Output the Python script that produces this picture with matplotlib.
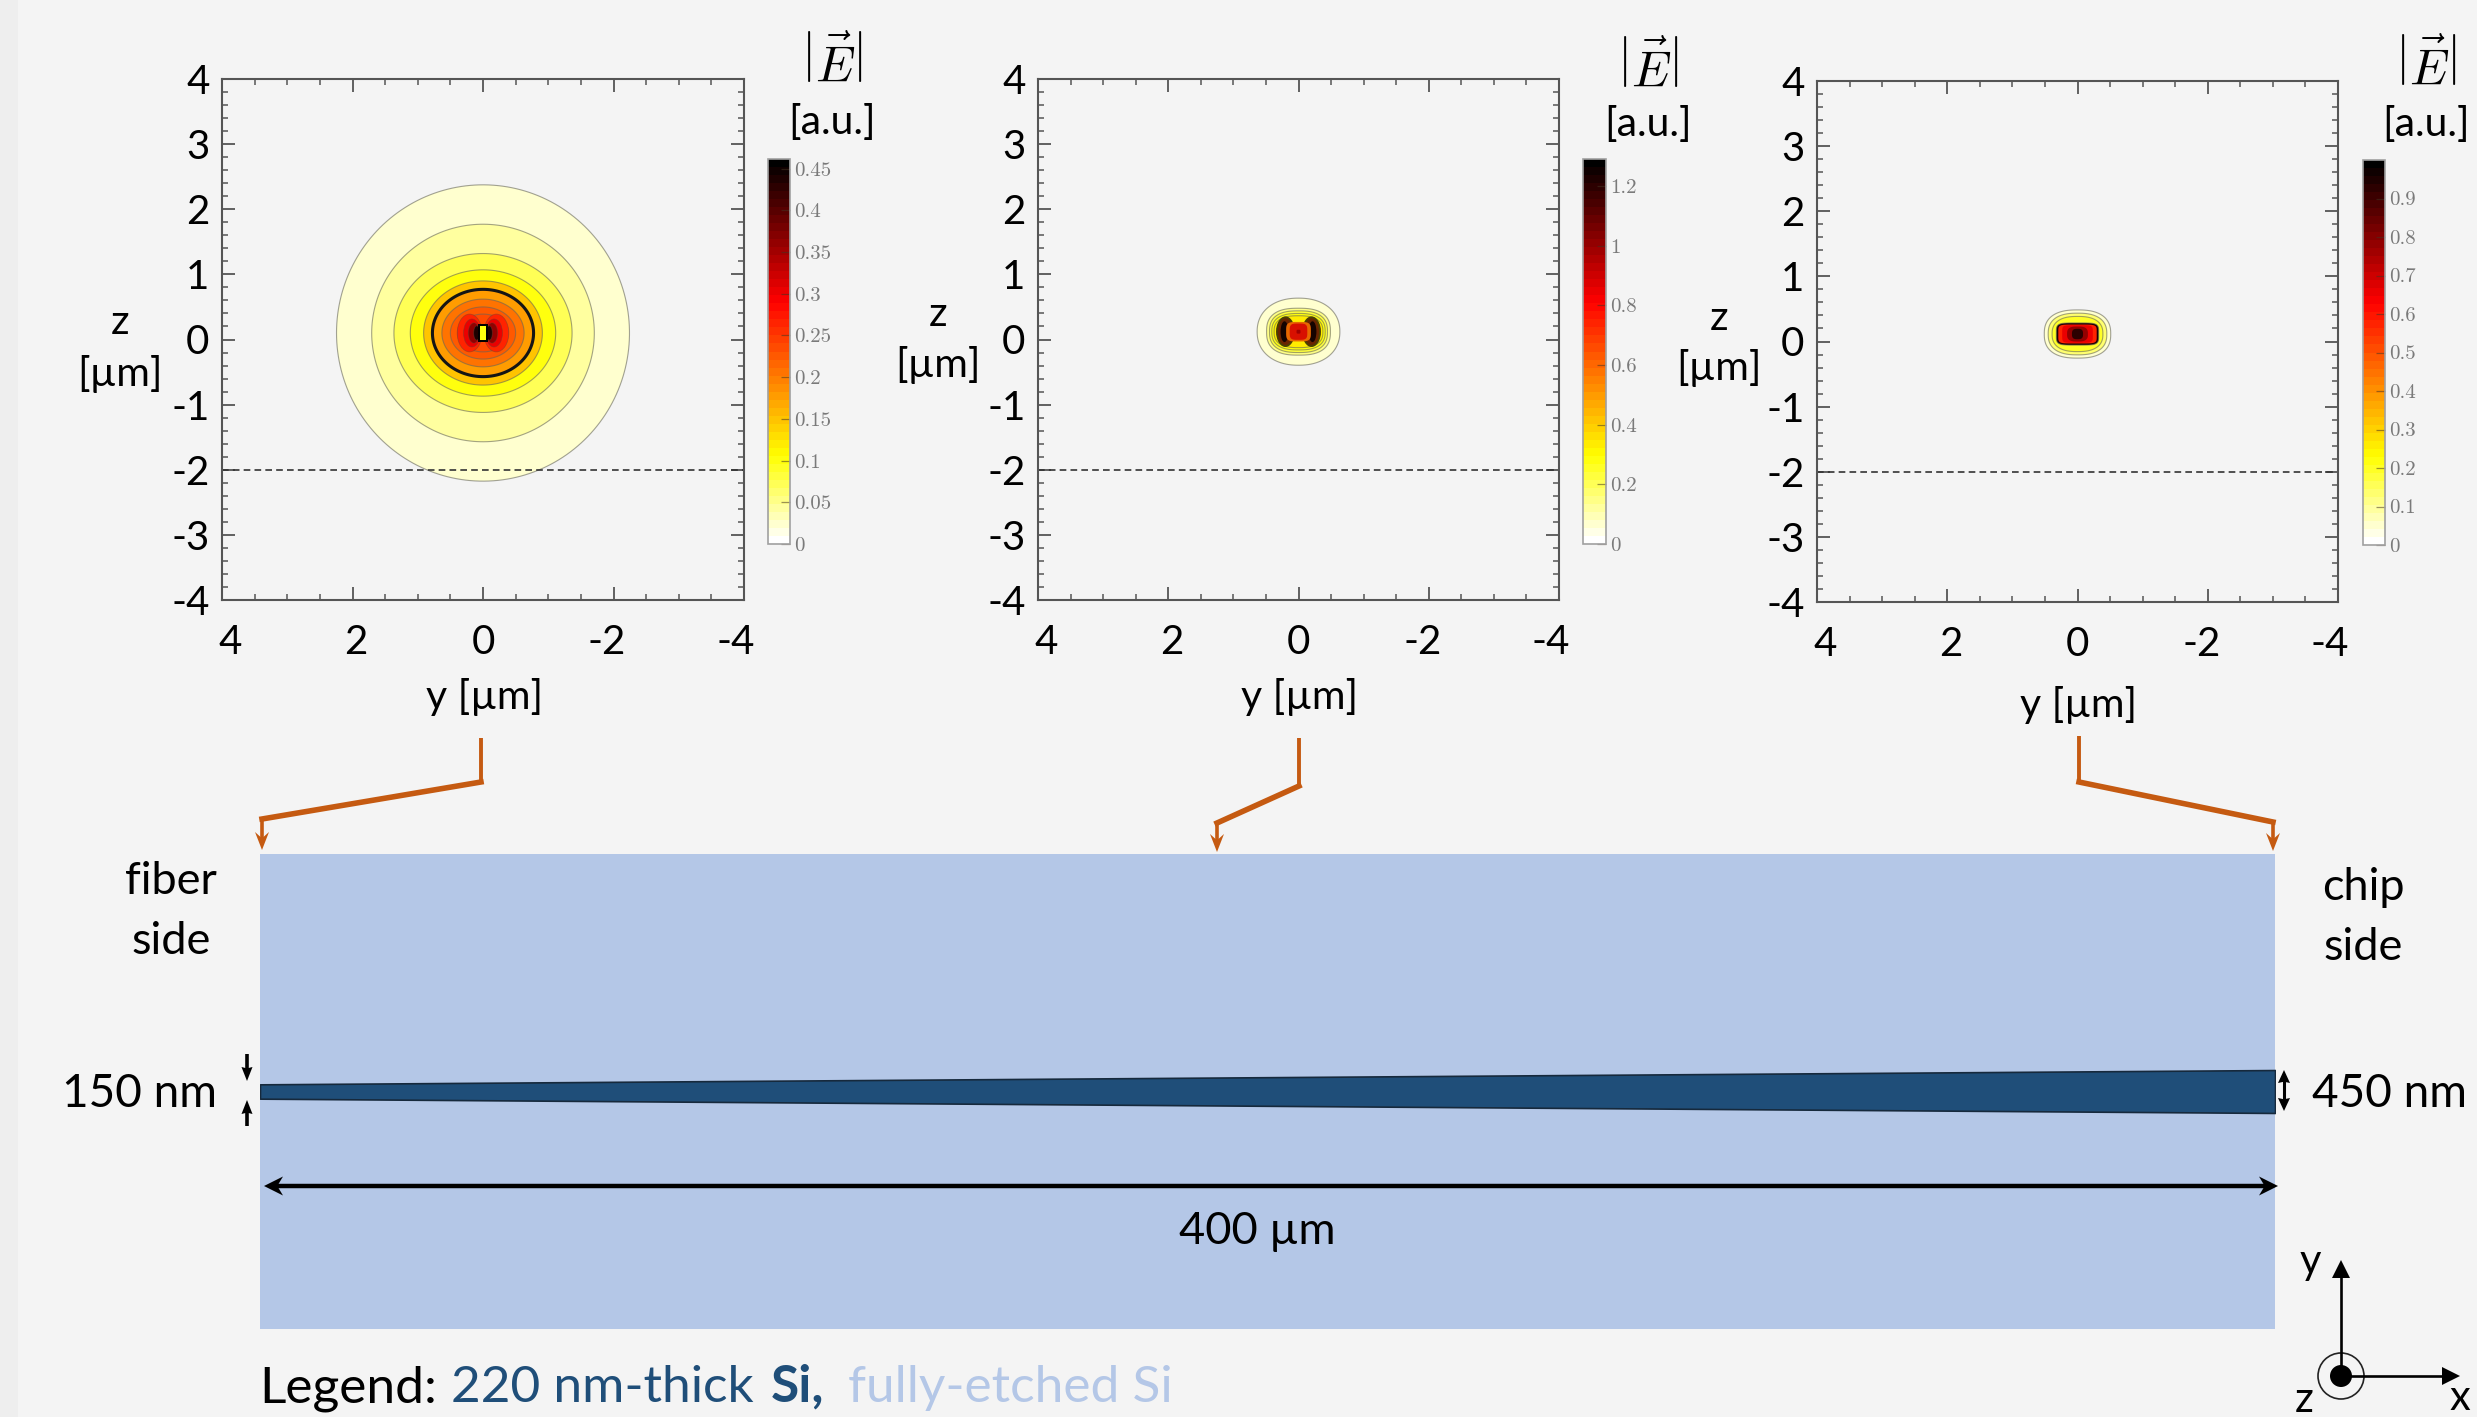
import numpy as np
import matplotlib
matplotlib.use("Agg")
import matplotlib.pyplot as plt
from matplotlib.cm import ScalarMappable
from matplotlib.colors import LinearSegmentedColormap, Normalize
from matplotlib.patches import Circle, Ellipse, Polygon, Rectangle
from matplotlib.ticker import FixedLocator

W, H = 2477, 1417
plt.rcParams['font.family'] = ['Lato', 'DejaVu Sans']
plt.rcParams['mathtext.fontset'] = 'cm'

BG = '#f4f4f4'
ETCH = '#b4c7e7'
SI = '#1f4e79'
ORANGE = '#c55a11'

# tick values
x_major = [4, 2, 0, -2, -4]
x_label_pos = [3.87, 1.95, 0, -1.9, -3.87]
x_labels = ['4', '2', '0', '-2', '-4']
z_major = [4, 3, 2, 1, 0, -1, -2, -3, -4]
z_labels = ['4', '3', '2', '1', '0', '-1', '-2', '-3', '-4']
cut_z = -2

# panel 1 contours (half width y, half height z in um, field value)
p1_center = 0.1
p1_hy = [2.245, 1.706, 1.365, 1.114, 0.91, 0.775, 0.63, 0.50, 0.39]
p1_hz = [2.275, 1.67, 1.22, 0.97, 0.80, 0.67, 0.52, 0.40, 0.29]
p1_val = [0.025, 0.045, 0.07, 0.10, 0.15, 0.18, 0.205, 0.225, 0.24]
p1_black = 5
p1_lobe_off = [0.205, 0.17, 0.14, 0.097]
p1_lobe_hy = [0.19, 0.128, 0.085, 0.046]
p1_lobe_hz = [0.29, 0.215, 0.155, 0.11]
p1_lobe_val = [0.26, 0.30, 0.36, 0.44]

# panel 2 contours
p2_center = 0.12
p2_hy = [0.635, 0.49, 0.445, 0.41, 0.375]
p2_hz = [0.515, 0.36, 0.32, 0.28, 0.245]
p2_val = [0.08, 0.16, 0.22, 0.28, 0.33]
p2_lobe_off = [0.2, 0.2, 0.215]
p2_lobe_hy = [0.145, 0.115, 0.06]
p2_lobe_hz = [0.235, 0.205, 0.16]
p2_lobe_col = ['#4a4000', '#6a2400', '#150300']
p2_mid_col = ['#e86800', '#d81000', '#a00000']
p2_mid_hy = [0.19, 0.135, 0.03]
p2_mid_hz = [0.15, 0.125, 0.03]

# panel 3 contours
p3_center = 0.115
p3_hy = [0.51, 0.45, 0.39, 0.325]
p3_hz = [0.37, 0.32, 0.27, 0.17]
p3_val = [0.06, 0.13, 0.20, 0.95]
p3_in_hy = [0.295, 0.235, 0.16, 0.085]
p3_in_hz = [0.145, 0.135, 0.115, 0.08]
p3_in_val = [0.58, 0.66, 0.78, 0.93]

# colour bars
cb1_max, cb1_ticks, cb1_labels = 0.4615, [0, 0.05, 0.1, 0.15, 0.2, 0.25, 0.3, 0.35, 0.4, 0.45], ['0', '0.05', '0.1', '0.15', '0.2', '0.25', '0.3', '0.35', '0.4', '0.45']
cb2_max, cb2_ticks, cb2_labels = 1.29, [0, 0.2, 0.4, 0.6, 0.8, 1, 1.2], ['0', '0.2', '0.4', '0.6', '0.8', '1', '1.2']
cb3_max, cb3_ticks, cb3_labels = 1.0, [0, 0.1, 0.2, 0.3, 0.4, 0.5, 0.6, 0.7, 0.8, 0.9], ['0', '0.1', '0.2', '0.3', '0.4', '0.5', '0.6', '0.7', '0.8', '0.9']

# taper
wg_x = [0, 400]
wg_width = [150, 450]

cmap = LinearSegmentedColormap.from_list(
    'hot_r2', [(0, '#ffffff'), (0.225, '#ffff00'), (0.63, '#ff0000'), (1, '#000000')], N=48)


def px_axes(left, top, right, bottom, **kw):
    return fig.add_axes([left / W, 1 - bottom / H, (right - left) / W, (bottom - top) / H], **kw)


def superellipse(cy, hy, hz, n):
    t = np.linspace(0, 2 * np.pi, 200)
    c, s = np.cos(t), np.sin(t)
    return np.column_stack([hy * np.sign(c) * np.abs(c) ** (2 / n),
                            cy + hz * np.sign(s) * np.abs(s) ** (2 / n)])


def ring(ax, cy, hy, hz, n, fc, ec='#66665a99', lw=0.8):
    ax.add_patch(Polygon(superellipse(cy, hy, hz, n), closed=True, fc=fc, ec=ec, lw=lw))


def panel(box, cb_box, cb_max, ticks, labels, xlab_y):
    ax = px_axes(*box, facecolor='none')
    ax.set_xlim(4, -4)
    ax.set_ylim(-4, 4)
    ax.set_xticks(x_major)
    ax.set_xticklabels([])
    ax.xaxis.set_minor_locator(FixedLocator(np.arange(-4, 4.1, 0.5)))
    ax.set_yticks(z_major)
    ax.set_yticklabels(z_labels, fontsize=29)
    ax.yaxis.set_minor_locator(FixedLocator(np.arange(-4, 4.1, 0.2)))
    ax.tick_params(which='major', direction='in', top=True, right=True, length=9.5, width=1.3, color='#555555', pad=9)
    ax.tick_params(which='minor', direction='in', top=True, right=True, length=4.5, width=1.1, color='#555555')
    for s in ax.spines.values():
        s.set_color('#555555')
        s.set_linewidth(1.5)
    for p, t in zip(x_label_pos, x_labels):
        ax.text(p, xlab_y, t, transform=ax.get_xaxis_transform(), ha='center', va='center', fontsize=29, color='black')
    norm = Normalize(0, cb_max)
    cax = px_axes(*cb_box)
    cb = fig.colorbar(ScalarMappable(norm=norm, cmap=cmap), cax=cax, ticks=ticks)
    cb.ax.set_yticklabels(labels)
    cb.ax.tick_params(direction='in', length=6.5, width=0.9, color='#44332288', labelcolor='#7a7a7a', labelsize=15, pad=3)
    for t in cb.ax.get_yticklabels():
        t.set_family('cmr10')
    cb.outline.set_edgecolor('#a0a0a0')
    cb.outline.set_linewidth(1.2)
    return ax, norm


fig = plt.figure(figsize=(W / 100, H / 100), dpi=100, facecolor=BG)

# slightly darker strip on the left edge, and pixel overlay for the annotations
ov = fig.add_axes([0, 0, 1, 1], facecolor='none')
ov.set_xlim(0, W)
ov.set_ylim(H, 0)
ov.axis('off')
ov.add_patch(Rectangle((0, 0), 18, H, fc='#eeeeee', ec='none'))

# panel 1
ax1, norm1 = panel((222, 79, 744, 600), (768, 159, 790, 544), cb1_max, cb1_ticks, cb1_labels, -0.082)
for i, (hy, hz, v) in enumerate(zip(p1_hy, p1_hz, p1_val)):
    if i == p1_black:
        ring(ax1, p1_center, hy, hz, 2, cmap(norm1(v)), ec='#151515', lw=2.2)
    else:
        ring(ax1, p1_center, hy, hz, 2, cmap(norm1(v)))
for off, hy, hz, v in zip(p1_lobe_off, p1_lobe_hy, p1_lobe_hz, p1_lobe_val):
    for sgn in (-1, 1):
        ax1.add_patch(Ellipse((sgn * off, p1_center), 2 * hy, 2 * hz, fc=cmap(norm1(v)), ec='#66443377', lw=0.6))
ax1.add_patch(Rectangle((-0.075, p1_center - 0.135), 0.15, 0.27, fc='black', ec='none'))
ax1.add_patch(Rectangle((-0.04, p1_center - 0.105), 0.08, 0.21, fc=cmap(norm1(0.1)), ec='none'))
ax1.axhline(cut_z, color='#333333', lw=1.2, dashes=(4, 2.5))

# panel 2
ax2, norm2 = panel((1038, 79, 1559, 600), (1583, 159, 1606, 544), cb2_max, cb2_ticks, cb2_labels, -0.082)
for i, (hy, hz, v) in enumerate(zip(p2_hy, p2_hz, p2_val)):
    ring(ax2, p2_center, hy, hz, 2.2 if i == 0 else 2.6, cmap(norm2(v)))
for off, hy, hz, col in zip(p2_lobe_off, p2_lobe_hy, p2_lobe_hz, p2_lobe_col):
    for sgn in (-1, 1):
        ax2.add_patch(Ellipse((sgn * off, p2_center), 2 * hy, 2 * hz, fc=col, ec='none'))
for hy, hz, col in zip(p2_mid_hy, p2_mid_hz, p2_mid_col):
    ring(ax2, p2_center, hy, hz, 4, col, ec='none', lw=0)
ax2.axhline(cut_z, color='#333333', lw=1.2, dashes=(4, 2.5))

# panel 3
ax3, norm3 = panel((1817, 81, 2338, 602), (2363, 160, 2385, 545), cb3_max, cb3_ticks, cb3_labels, -0.082)
for i, (hy, hz, v) in enumerate(zip(p3_hy, p3_hz, p3_val)):
    ring(ax3, p3_center, hy, hz, 2.5 if i < 3 else 5, cmap(norm3(v)))
for i, (hy, hz, v) in enumerate(zip(p3_in_hy, p3_in_hz, p3_in_val)):
    ring(ax3, p3_center, hy, hz, 6 if i < 2 else 3, cmap(norm3(v)), ec='none', lw=0)
ax3.axhline(cut_z, color='#333333', lw=1.2, dashes=(4, 2.5))

# taper schematic, in um along x and nm across
sch = px_axes(260, 854, 2275, 1329, facecolor=ETCH)
sch.set_xlim(wg_x)
sch.set_ylim(-2490, 2490)
sch.set_xticks([])
sch.set_yticks([])
for s in sch.spines.values():
    s.set_visible(False)
half = np.array(wg_width) / 2
sch.fill_between(wg_x, -half, half, fc=SI, ec='#16293c', lw=1.2)

# overlay goes on top of the axes
ov.set_zorder(5)


def head(tip, direction, length, width, col='black', notch=0.3):
    d = np.array(direction, float)
    d = d / np.hypot(*d)
    nrm = np.array([-d[1], d[0]])
    tip = np.array(tip, float)
    back = tip - d * length
    pts = [tip, back + nrm * width / 2, tip - d * length * (1 - notch), back - nrm * width / 2]
    ov.add_patch(Polygon(pts, closed=True, fc=col, ec='none'))


def bracket(pts):
    (x0, y0), (x1, y1), (x2, y2), (x3, y3) = pts
    ov.plot([x0, x1], [y0, y1], color=ORANGE, lw=2.8, solid_capstyle='butt')
    ov.plot([x1, x2], [y1, y2], color=ORANGE, lw=4, solid_capstyle='projecting')
    ov.plot([x2, x3 - 0], [y2, y3 - 6], color=ORANGE, lw=2.6, solid_capstyle='butt')
    head((x3, y3), (0, 1), 18, 14, ORANGE, notch=0.35)


bracket([(481, 738), (481, 782), (262, 819), (262, 850)])
bracket([(1299, 738), (1299, 786), (1217, 823), (1217, 852)])
bracket([(2079, 736), (2079, 782), (2273, 822), (2273, 851)])

# axis titles and colour bar titles
for x, y1, y2, s in [(120, 322, 374, 'z'), (938, 315, 365, 'z'), (1719, 318, 368, 'z')]:
    ov.text(x, y1, s, ha='center', va='center', fontsize=29.5)
    ov.text(x, y2, '[µm]', ha='center', va='center', fontsize=29.5)
for x, y in [(485, 697), (1300, 697), (2079, 705)]:
    ov.text(x, y, 'y [µm]', ha='center', va='center', fontsize=29.5)
for x, y1, y2 in [(832, 63, 122), (1648, 68, 125), (2426, 66, 125)]:
    ov.text(x, y1, r'$\left|\vec{E}\right|$', ha='center', va='center', fontsize=36)
    ov.text(x, y2, '[a.u.]', ha='center', va='center', fontsize=29.5)

# schematic labels
ov.text(171, 881, 'fiber', ha='center', va='center', fontsize=32.5)
ov.text(171, 941, 'side', ha='center', va='center', fontsize=32.5)
ov.text(2363, 888, 'chip', ha='center', va='center', fontsize=32.5)
ov.text(2363, 948, 'side', ha='center', va='center', fontsize=32.5)
ov.text(140, 1094, '150 nm', ha='center', va='center', fontsize=33)
ov.text(2390, 1094, '450 nm', ha='center', va='center', fontsize=33)
ov.text(1257, 1231, '400 µm', ha='center', va='center', fontsize=32.5)

# dimension arrows
ov.plot([247, 247], [1054, 1072], color='black', lw=2.6, solid_capstyle='butt')
head((247, 1081), (0, 1), 14, 11, notch=0.1)
ov.plot([247, 247], [1126, 1110], color='black', lw=2.6, solid_capstyle='butt')
head((247, 1100), (0, -1), 14, 11, notch=0.1)
ov.plot([2284, 2284], [1078, 1103], color='black', lw=2.2, solid_capstyle='butt')
head((2284, 1070), (0, -1), 13, 12, notch=0.1)
head((2284, 1111), (0, 1), 13, 12, notch=0.1)
ov.plot([272, 2270], [1186, 1186], color='black', lw=3.2, solid_capstyle='butt')
head((264, 1186), (-1, 0), 19, 19)
head((2278, 1186), (1, 0), 19, 19)

# legend line
leg_y = 1402
ov.text(259, leg_y, 'Legend:', ha='left', va='baseline', fontsize=37, color='black')
ov.text(451, leg_y, '220 nm-thick', ha='left', va='baseline', fontsize=37, color=SI)
ov.text(771, leg_y, 'Si,', ha='left', va='baseline', fontsize=37, color=SI, fontweight='bold')
ov.text(848, leg_y, 'fully-etched Si', ha='left', va='baseline', fontsize=37, color=ETCH)

# coordinate triad
ox, oy = 2341, 1376
ov.plot([ox, ox], [oy, 1275], color='black', lw=1.9, solid_capstyle='butt')
head((ox, 1260), (0, -1), 18, 18, notch=0)
ov.plot([ox, 2445], [oy, oy], color='black', lw=1.9, solid_capstyle='butt')
head((2460, oy), (1, 0), 18, 18, notch=0)
ov.add_patch(Circle((ox, oy), 23, fc='none', ec='#222222', lw=1.2))
ov.add_patch(Circle((ox, oy), 11, fc='black', ec='none'))
ov.text(2310, 1262, 'y', ha='center', va='center', fontsize=30)
ov.text(2304, 1400, 'z', ha='center', va='center', fontsize=30)
ov.text(2460, 1398, 'x', ha='center', va='center', fontsize=30)

fig.savefig('out.png', dpi=100, facecolor=BG)
